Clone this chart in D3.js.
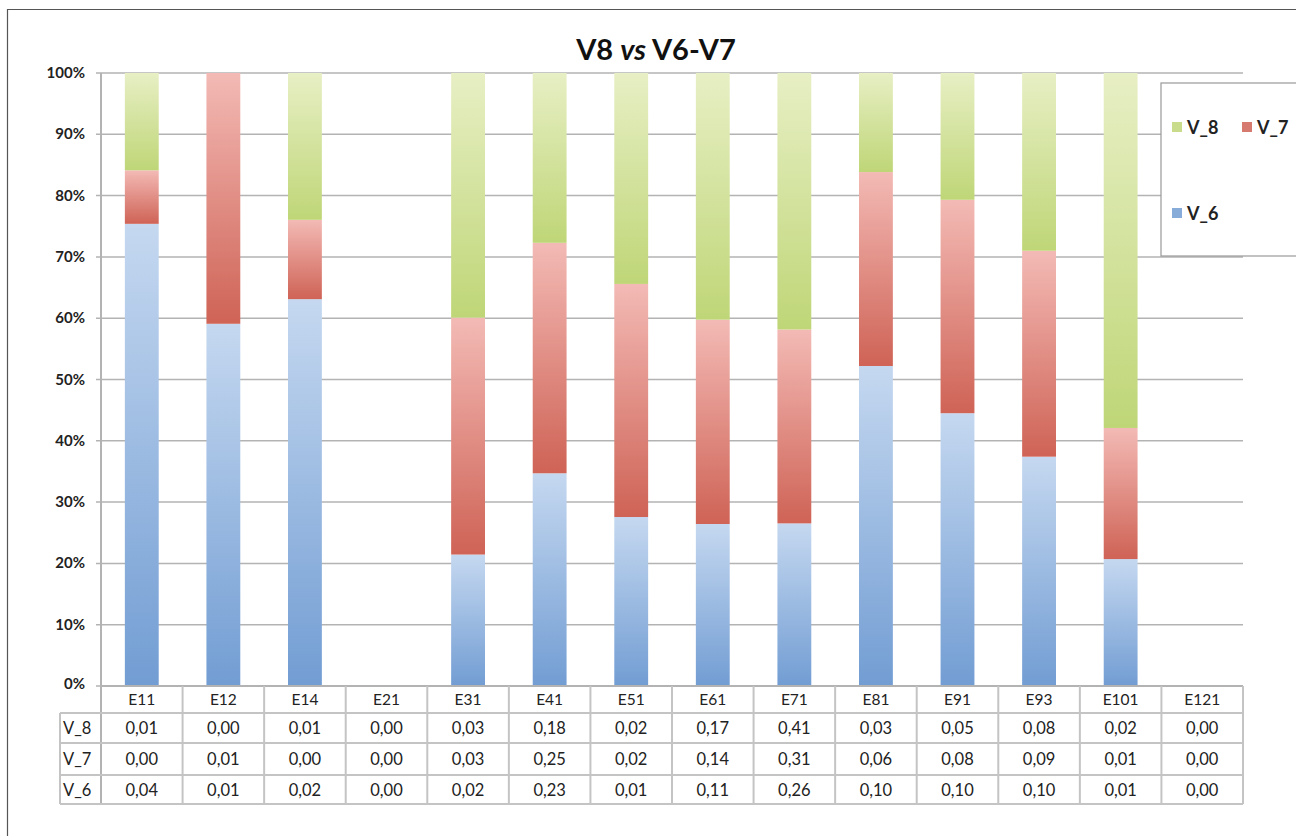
<!DOCTYPE html>
<html><head><meta charset="utf-8">
<script src="https://cdn.jsdelivr.net/npm/d3@7"></script>
<style>body{margin:0;background:#fff;} svg{display:block;font-family:Lato,"Open Sans",sans-serif;}</style>
</head><body>
<script>
const categories = ["E11","E12","E14","E21","E31","E41","E51","E61","E71","E81","E91","E93","E101","E121"];
const V_6 = [0.038, 0.0078, 0.0195, 0, 0.0187, 0.228, 0.0145, 0.111, 0.26, 0.0995, 0.102, 0.100, 0.00876, 0];
const V_7 = [0.0044, 0.0054, 0.0040, 0, 0.0337, 0.247, 0.0200, 0.140, 0.31, 0.0603, 0.0798, 0.0898, 0.00905, 0];
const V_8 = [0.0080, 0, 0.0074, 0, 0.0348, 0.182, 0.0181, 0.169, 0.41, 0.0308, 0.0474, 0.0775, 0.0245, 0];
const seriesNames = ["V_6","V_7","V_8"];
const tableOrder = ["V_8","V_7","V_6"];
const yTicks = [0,0.1,0.2,0.3,0.4,0.5,0.6,0.7,0.8,0.9,1];
const title = ["V8 ", "vs", " V6-V7"];

const W = 1296, H = 836;
const svg = d3.select("body").append("svg").attr("width", W).attr("height", H);
const m = {left: 101, right: 1243, top: 73, bottom: 686};

const colors = {
  V_6: ["#c5d8f0", "#729dd3"],
  V_7: ["#f3bab5", "#cf6356"],
  V_8: ["#e7efc4", "#bfd677"]
};
const defs = svg.append("defs");
seriesNames.forEach(s => {
  const g = defs.append("linearGradient").attr("id", "g" + s).attr("x1", 0).attr("y1", 0).attr("x2", 0).attr("y2", 1);
  g.append("stop").attr("offset", "0%").attr("stop-color", colors[s][0]);
  g.append("stop").attr("offset", "100%").attr("stop-color", colors[s][1]);
});

// outer border
svg.append("path").attr("d", `M7.5,${H} V9.5 H${W}`).attr("fill", "none").attr("stroke", "#555").attr("stroke-width", 1.2);

const x = d3.scaleBand().domain(categories).range([m.left, m.right]).paddingInner(0.585).paddingOuter(0.2925);
const xCell = d3.scaleBand().domain(categories).range([m.left, m.right]);
const y = d3.scaleLinear().domain([0, 1]).range([m.bottom, m.top]);

// gridlines
svg.append("g").selectAll("line").data(yTicks).join("line")
  .attr("x1", m.left - 5).attr("x2", m.right)
  .attr("y1", d => y(d)).attr("y2", d => y(d))
  .attr("stroke", "#b3b3b3").attr("stroke-width", 1.5);

// y axis labels
const fmtPct = d3.format(".0%");
svg.append("g").selectAll("text").data(yTicks).join("text")
  .attr("x", 85).attr("y", d => y(d) + 5 - (d === 0 ? 2 : 0))
  .attr("text-anchor", "end").attr("font-size", 15).attr("font-weight", "bold").attr("fill", "#222")
  .text(d => fmtPct(d));

// stacked data
const rows = categories.map((c, i) => ({cat: c, V_6: V_6[i], V_7: V_7[i], V_8: V_8[i]}));
const stack = d3.stack().keys(seriesNames).offset(d3.stackOffsetExpand);
const stacked = stack(rows);
stacked.forEach(layer => {
  svg.append("g").selectAll("rect").data(layer.filter(d => (d[1] - d[0]) > 0 && isFinite(d[1]))).join("rect")
    .attr("x", d => x(d.data.cat)).attr("width", x.bandwidth())
    .attr("y", d => y(d[1])).attr("height", d => y(d[0]) - y(d[1]))
    .attr("fill", `url(#g${layer.key})`);
});

// y axis line
svg.append("line").attr("x1", m.left).attr("x2", m.left).attr("y1", m.top).attr("y2", 804)
  .attr("stroke", "#b3b3b3").attr("stroke-width", 2);

// table
const rowH = [686, 713, 743, 775, 804];
const data = {V_6, V_7, V_8};
const fmtVal = v => d3.format(".2f")(v).replace(".", ",");
const tg = svg.append("g");
const tc = "#c4c4c4";
rowH.forEach((yy, i) => {
  tg.append("line").attr("x1", i === 0 ? m.left : 60).attr("x2", m.right).attr("y1", yy).attr("y2", yy)
    .attr("stroke", i === 0 ? "#b3b3b3" : tc).attr("stroke-width", 2);
});
categories.forEach(c => {
  tg.append("line").attr("x1", xCell(c) + xCell.bandwidth()).attr("x2", xCell(c) + xCell.bandwidth())
    .attr("y1", 686).attr("y2", 804).attr("stroke", tc).attr("stroke-width", 2);
});
tg.append("line").attr("x1", 60).attr("x2", 60).attr("y1", 713).attr("y2", 804).attr("stroke", tc).attr("stroke-width", 2);
tg.selectAll("text.h").data(categories).join("text").attr("class", "h")
  .attr("x", d => xCell(d) + xCell.bandwidth() / 2).attr("y", 705)
  .attr("text-anchor", "middle").attr("font-size", 15.5).attr("fill", "#222").text(d => d);
tableOrder.forEach((s, r) => {
  const yc = (rowH[r + 1] + rowH[r + 2]) / 2 + 6;
  tg.append("text").attr("x", 63).attr("y", yc).attr("font-size", 16.5).attr("fill", "#222").text(s);
  tg.selectAll("text.v" + s).data(categories).join("text").attr("class", "v" + s)
    .attr("x", d => xCell(d) + xCell.bandwidth() / 2).attr("y", yc)
    .attr("text-anchor", "middle").attr("font-size", 16.5).attr("fill", "#222")
    .text((d, i) => fmtVal(data[s][i]));
});

// title
const t = svg.append("text").attr("x", 656).attr("y", 60).attr("text-anchor", "middle")
  .attr("font-size", 29).attr("font-weight", "bold").attr("fill", "#111");
title.forEach((p, i) => t.append("tspan").attr("font-style", i === 1 ? "italic" : "normal").text(p));

// legend
const lg = svg.append("g");
lg.append("rect").attr("x", 1161).attr("y", 83).attr("width", 150).attr("height", 173)
  .attr("fill", "#fff").attr("stroke", "#999").attr("stroke-width", 1.2);
const legendItems = [{k: "V_8", x: 1172, y: 128}, {k: "V_7", x: 1242, y: 128}, {k: "V_6", x: 1172, y: 214}];
legendItems.forEach(it => {
  lg.append("rect").attr("x", it.x).attr("y", it.y - 6).attr("width", 10).attr("height", 10).attr("fill", colors[it.k][1]).attr("opacity", 0.85);
  lg.append("text").attr("x", it.x + 15).attr("y", it.y + 6).attr("font-size", 18).attr("font-weight", "bold").attr("fill", "#222").text(it.k);
});
</script>
</body></html>
